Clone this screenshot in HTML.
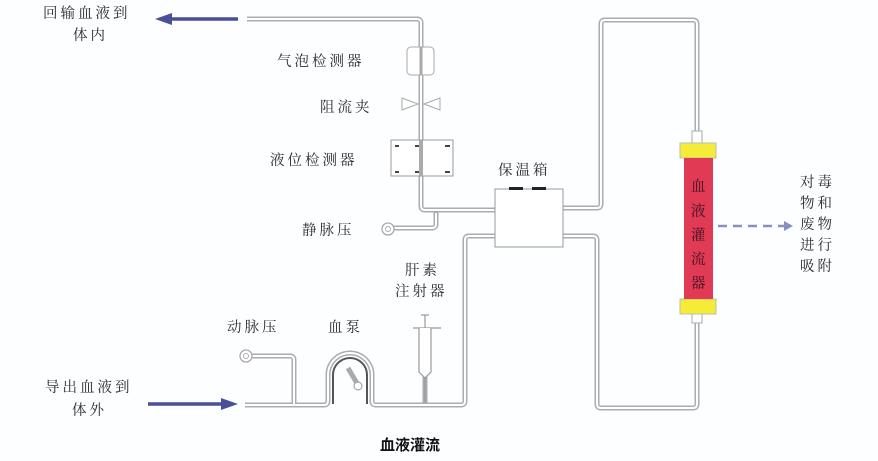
<!DOCTYPE html>
<html><head><meta charset="utf-8"><style>
body{margin:0;background:#fff}
svg{display:block}
text{font-family:"Liberation Serif","Noto Serif CJK SC",serif;fill:#2a2a2a;font-size:14.5px;letter-spacing:3px}
</style></head><body>
<svg width="878" height="461" viewBox="0 0 878 461" xmlns="http://www.w3.org/2000/svg">
<rect width="878" height="461" fill="#fdfeff"/>
<g fill="none" stroke-linejoin="round" stroke-linecap="butt">
<g stroke="#a9adb2" stroke-width="5">
<path d="M247 19 H417 Q421 19 421 23 V206 Q421 210 425 210 H497"/>
<path d="M563 208 H597 Q601 208 601 204 V24 Q601 20 605 20 H693 Q697 20 697 24 V135"/>
<path d="M697 315 V404 Q697 408 693 408 H601 Q597 408 597 404 V240 Q597 236 593 236 H563"/>
<path d="M497 236 H469 Q465 236 465 240 V401 Q465 405 461 405 H376 Q372 405 372 401 V375 A22 22 0 0 0 328 375 V401 Q328 405 324 405 H245"/>
<path d="M393 228 H432 Q436 228 436 224 V211"/>
<path d="M251 356 H290 Q294 356 294 360 V404"/>
<path d="M425 365 V404"/>
</g>
<g stroke="#fff" stroke-width="2">
<path d="M247 19 H417 Q421 19 421 23 V206 Q421 210 425 210 H497"/>
<path d="M563 208 H597 Q601 208 601 204 V24 Q601 20 605 20 H693 Q697 20 697 24 V135"/>
<path d="M697 315 V404 Q697 408 693 408 H601 Q597 408 597 404 V240 Q597 236 593 236 H563"/>
<path d="M497 236 H469 Q465 236 465 240 V401 Q465 405 461 405 H376 Q372 405 372 401 V375 A22 22 0 0 0 328 375 V401 Q328 405 324 405 H245"/>
<path d="M393 228 H432 Q436 228 436 224 V213"/>
<path d="M251 356 H290 Q294 356 294 360 V404"/>
</g>
</g>
<path d="M333 404 V375 A17 17 0 0 1 367 375 V404" fill="none" stroke="#555" stroke-width="2"/>
<line x1="348" y1="368" x2="358" y2="385" stroke="#aaa" stroke-width="5"/>
<circle cx="358" cy="386" r="4" fill="#fff" stroke="#999"/>
<g stroke="#999" fill="#fff" stroke-width="1.2">
<line x1="413" y1="328" x2="441" y2="328"/>
<line x1="421" y1="315" x2="429" y2="315"/>
<line x1="425" y1="315" x2="425" y2="328"/>
<path d="M419 328 V372 L425 378 L431 372 V328"/>
<line x1="425" y1="378" x2="425" y2="402"/>
</g>
<circle cx="246" cy="356" r="6" fill="#fff" stroke="#aaa" stroke-width="1.3"/><circle cx="246" cy="356" r="2.5" fill="none" stroke="#aaa"/>
<circle cx="388" cy="229" r="6" fill="#fff" stroke="#aaa" stroke-width="1.3"/><circle cx="388" cy="229" r="2.5" fill="none" stroke="#aaa"/>
<rect x="407" y="47" width="27" height="28" rx="4" fill="#fff" stroke="#aaa"/>
<line x1="421" y1="47" x2="421" y2="75" stroke="#aaa" stroke-width="3"/>
<path d="M402 98 L418 104 L402 110 Z M440 98 L424 104 L440 110 Z" fill="#fff" stroke="#aaa"/>
<rect x="391" y="140" width="62" height="36" fill="#fff" stroke="#999"/>
<g fill="#444"><rect x="395" y="145" width="4" height="2"/><rect x="415" y="145" width="4" height="2"/><rect x="445" y="145" width="5" height="2"/><rect x="395" y="171" width="4" height="2"/><rect x="415" y="171" width="4" height="2"/><rect x="445" y="171" width="5" height="2"/></g>
<line x1="421" y1="140" x2="421" y2="176" stroke="#aaa" stroke-width="4"/>
<rect x="495" y="189" width="68" height="58" fill="#fff" stroke="#999"/>
<rect x="509" y="187" width="14" height="3" fill="#222"/><rect x="532" y="187" width="14" height="3" fill="#222"/>
<rect x="692" y="131" width="10" height="12" fill="#fff" stroke="#aaa"/>
<rect x="692" y="313" width="10" height="10" fill="#fff" stroke="#aaa"/>
<rect x="680" y="143" width="36" height="15" fill="#f4ec36" stroke="#bbb"/>
<rect x="680" y="299" width="36" height="15" fill="#f4ec36" stroke="#bbb"/>
<rect x="684" y="158" width="29" height="141" fill="#e13a55"/>
<g style="font-size:15px;letter-spacing:0">
<text x="691" y="191" style="fill:#3a1020">血</text><text x="691" y="216" style="fill:#3a1020">液</text><text x="691" y="240" style="fill:#3a1020">灌</text><text x="691" y="264" style="fill:#3a1020">流</text><text x="691" y="288" style="fill:#3a1020">器</text>
</g>
<line x1="718" y1="226" x2="787" y2="226" stroke="#8a8fc0" stroke-width="2.5" stroke-dasharray="9 6"/>
<path d="M784 221 L793 226 L784 231 Z" fill="#8a8fc0"/>
<line x1="172" y1="19" x2="238" y2="19" stroke="#4a4f9a" stroke-width="3.5"/>
<path d="M155 19 L172 13 L172 25 Z" fill="#4a4f9a"/>
<line x1="148" y1="404" x2="222" y2="404" stroke="#4a4f9a" stroke-width="3.5"/>
<path d="M238 404 L221 398 L221 410 Z" fill="#4a4f9a"/>
<text x="43" y="18">回输血液到</text>
<text x="73" y="40">体内</text>
<text x="45" y="392">导出血液到</text>
<text x="72" y="415">体外</text>
<text x="277" y="66">气泡检测器</text>
<text x="320" y="112">阻流夹</text>
<text x="270" y="165">液位检测器</text>
<text x="498" y="175">保温箱</text>
<text x="302" y="235">静脉压</text>
<text x="405" y="275">肝素</text>
<text x="395" y="296">注射器</text>
<text x="227" y="332">动脉压</text>
<text x="328" y="332">血泵</text>
<text x="800" y="187">对毒</text>
<text x="800" y="208">物和</text>
<text x="800" y="229">废物</text>
<text x="800" y="250">进行</text>
<text x="800" y="271">吸附</text>
<text x="380" y="450" style="font-family:'Liberation Sans','Noto Sans CJK SC',sans-serif;font-weight:bold;letter-spacing:0;fill:#111;font-size:15px">血液灌流</text>
</svg>
</body></html>
